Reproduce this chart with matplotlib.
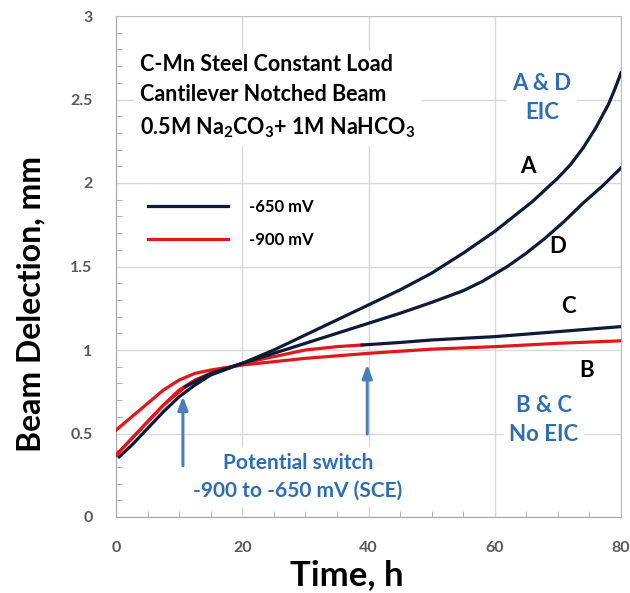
import matplotlib
matplotlib.use("Agg")
import matplotlib.pyplot as plt
from matplotlib.ticker import MultipleLocator
import numpy as np

plt.rcParams['font.family'] = ['Lato', 'DejaVu Sans']
plt.rcParams['font.weight'] = 'bold'
plt.rcParams['mathtext.fontset'] = 'custom'
plt.rcParams['mathtext.rm'] = 'Lato:bold'
plt.rcParams['mathtext.it'] = 'Lato:bold'
plt.rcParams['mathtext.bf'] = 'Lato:bold'

# curve A: -650 mV the whole time
t_A = [0.5, 2.5, 5, 7.5, 10, 12.5, 15, 20, 25, 30, 35, 40, 45, 50, 55, 60, 63, 66, 68, 70, 72, 74, 76, 78, 79, 80]
y_A = [0.36, 0.43, 0.53, 0.63, 0.72, 0.79, 0.85, 0.92, 1.00, 1.09, 1.18, 1.27, 1.36, 1.46, 1.58, 1.71, 1.80, 1.89, 1.96, 2.03, 2.11, 2.21, 2.33, 2.47, 2.56, 2.66]

# curve D: -900 mV then switched to -650 mV at ~11 h
t_D = [0, 2.5, 5, 7.5, 11, 15, 20, 25, 30, 35, 40, 45, 50, 55, 58, 62, 65, 68, 71, 74, 77, 80]
y_D = [0.37, 0.47, 0.57, 0.67, 0.78, 0.86, 0.92, 0.98, 1.04, 1.10, 1.16, 1.22, 1.285, 1.355, 1.41, 1.50, 1.58, 1.67, 1.77, 1.88, 1.98, 2.09]
switch_D = 11

# curve C: -900 mV then switched to -650 mV at ~39 h
t_C = [0, 2.5, 5, 7.5, 10, 12.5, 15, 20, 25, 30, 35, 39, 45, 50, 60, 70, 80]
y_C = [0.37, 0.47, 0.57, 0.67, 0.76, 0.82, 0.86, 0.92, 0.96, 1.00, 1.02, 1.03, 1.045, 1.06, 1.08, 1.11, 1.14]
switch_C = 39

# curve B: -900 mV the whole time
t_B = [0, 2.5, 5, 7.5, 10, 12.5, 15, 20, 25, 30, 35, 40, 50, 60, 70, 80]
y_B = [0.52, 0.60, 0.68, 0.76, 0.82, 0.86, 0.88, 0.91, 0.93, 0.95, 0.965, 0.98, 1.005, 1.02, 1.04, 1.055]

black = '#0e1a36'
red = '#e3161b'
blue = '#2e6db4'
arrow_blue = '#4a7ebb'

fig = plt.figure(figsize=(6.3, 5.93), dpi=100)
ax = fig.add_axes([116/630, 76/593, 505/630, 501/593])

lw = 2.3
t_D = np.array(t_D); y_D = np.array(y_D)
t_C = np.array(t_C); y_C = np.array(y_C)

# red parts first so the black parts sit on top
ax.plot(t_B, y_B, color=red, lw=lw, label='-900 mV', zorder=3)
ax.plot(t_C[t_C <= switch_C], y_C[t_C <= switch_C], color=red, lw=lw, zorder=3)
ax.plot(t_D[t_D <= switch_D], y_D[t_D <= switch_D], color=red, lw=lw, zorder=3)
ax.plot(t_C[t_C >= switch_C], y_C[t_C >= switch_C], color=black, lw=lw, zorder=4)
ax.plot(t_D[t_D >= switch_D], y_D[t_D >= switch_D], color=black, lw=lw, zorder=4)
ax.plot(t_A, y_A, color=black, lw=lw, label='-650 mV', zorder=4)

ax.set_xlim(0, 80)
ax.set_ylim(0, 3)
ax.xaxis.set_major_locator(MultipleLocator(20))
ax.xaxis.set_minor_locator(MultipleLocator(5))
ax.yaxis.set_minor_locator(MultipleLocator(0.1))
ax.set_yticks([0, 0.5, 1, 1.5, 2, 2.5, 3])
ax.set_yticklabels(['0', '0.5', '1', '1.5', '2', '2.5', '3'])
ax.grid(True, which='major', color='#d9d9d9', lw=1, zorder=0)
ax.tick_params(which='major', length=0, pad=17, labelsize=11.5, labelcolor='#595959')
ax.tick_params(which='minor', direction='in', length=4, color='#a6a6a6')
for s in ax.spines.values():
    s.set_color('#bfbfbf')
ax.spines['left'].set_color('#a6a6a6')
ax.spines['bottom'].set_color('#a6a6a6')

ax.set_xlabel('Time, h', fontsize=25, fontweight='bold')
ax.set_ylabel('Beam Delection, mm', fontsize=23, fontweight='bold')
ax.xaxis.set_label_coords(0.457, -0.083)
ax.yaxis.set_label_coords(-0.14, 0.425)

# legend, black first
h, l = ax.get_legend_handles_labels()
ax.legend(h[::-1], l[::-1], loc='upper left', bbox_to_anchor=(0.033, 0.665), frameon=False,
          handlelength=4.8, handletextpad=1.3, labelspacing=1.0, fontsize=12)

box = dict(facecolor='white', edgecolor='none', pad=4)
ax.text(3.8, 2.515, 'C-Mn Steel Constant Load\nCantilever Notched Beam\n0.5M Na$_2$CO$_3$+ 1M NaHCO$_3$',
        fontsize=15.5, ha='left', va='center', linespacing=1.55, bbox=box, zorder=5)
ax.text(67.5, 2.51, 'A & D\nEIC', color=blue, fontsize=16, ha='center', va='center',
        linespacing=1.5, bbox=box, zorder=5)
ax.text(67.8, 0.58, 'B & C\nNo EIC', color=blue, fontsize=16, ha='center', va='center',
        linespacing=1.5, bbox=box, zorder=5)
ax.text(28.8, 0.24, 'Potential switch\n-900 to -650 mV (SCE)', color=blue, fontsize=15,
        ha='center', va='center', linespacing=1.5, bbox=box, zorder=5)

for lab, x, y in [('A', 65.3, 2.10), ('D', 69.9, 1.62), ('C', 71.6, 1.26), ('B', 74.6, 0.88)]:
    ax.text(x, y, lab, fontsize=16, ha='center', va='center', zorder=5)

# switch arrows
arrow = dict(arrowstyle='-|>,head_length=0.8,head_width=0.3', color=arrow_blue, lw=2.2)
ax.annotate('', xy=(10.6, 0.74), xytext=(10.6, 0.29), arrowprops=arrow, zorder=6)
ax.annotate('', xy=(39.8, 0.93), xytext=(39.8, 0.48), arrowprops=arrow, zorder=6)

fig.savefig('out.png', dpi=100)
